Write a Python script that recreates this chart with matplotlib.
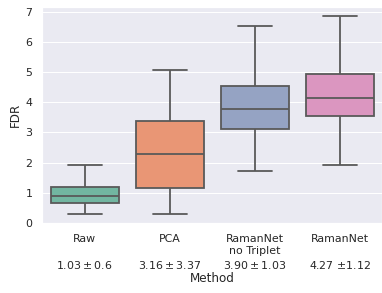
import numpy as np
import pandas as pd
import matplotlib
matplotlib.use("Agg")
import matplotlib.pyplot as plt
import seaborn as sns

methods = ["Raw", "PCA", "RamanNet\nno Triplet", "RamanNet"]
scores = ["$1.03 \\pm 0.6$", "$3.16 \\pm 3.37$", "$3.90 \\pm 1.03$", "4.27 $\\pm 1.12$"]
# five-number summaries: min, q1, median, q3, max
raw_vals = [0.30, 0.66, 0.89, 1.18, 1.92]
pca_vals = [0.30, 1.16, 2.30, 3.36, 5.08]
rnnt_vals = [1.72, 3.11, 3.77, 4.52, 6.52]
rn_vals = [1.92, 3.54, 4.13, 4.92, 6.85]

sns.set_theme(style="darkgrid")
plt.rcParams['font.family'] = ['DejaVu Sans']

labels = [m if "\n" in m else m + "\n" for m in methods]
labels = [l + "\n" + s for l, s in zip(labels, scores)]

rows = []
for lab, vals in zip(labels, [raw_vals, pca_vals, rnnt_vals, rn_vals]):
    for v in vals:
        rows.append((lab, v))
df = pd.DataFrame(rows, columns=["Method", "FDR"])

fig = plt.figure(figsize=(382 / 72, 293 / 72), dpi=72)
ax = fig.add_axes([42 / 382, (293 - 223) / 293, 340 / 382, (223 - 7) / 293])
sns.boxplot(data=df, x="Method", y="FDR", hue="Method", palette="Set2",
            whis=np.inf, ax=ax, legend=False, linewidth=1.8)
ax.set_ylim(0, 7.15)
ax.set_yticks(range(0, 8))
ax.tick_params(axis="both", labelsize=11)
ax.tick_params(axis="x", pad=5)
for t in ax.get_xticklabels():
    t.set_linespacing(1.3)
ax.set_xlabel("Method", fontsize=12, labelpad=1)
ax.set_ylabel("FDR", fontsize=12)
fig.savefig("out.png", dpi=72)
